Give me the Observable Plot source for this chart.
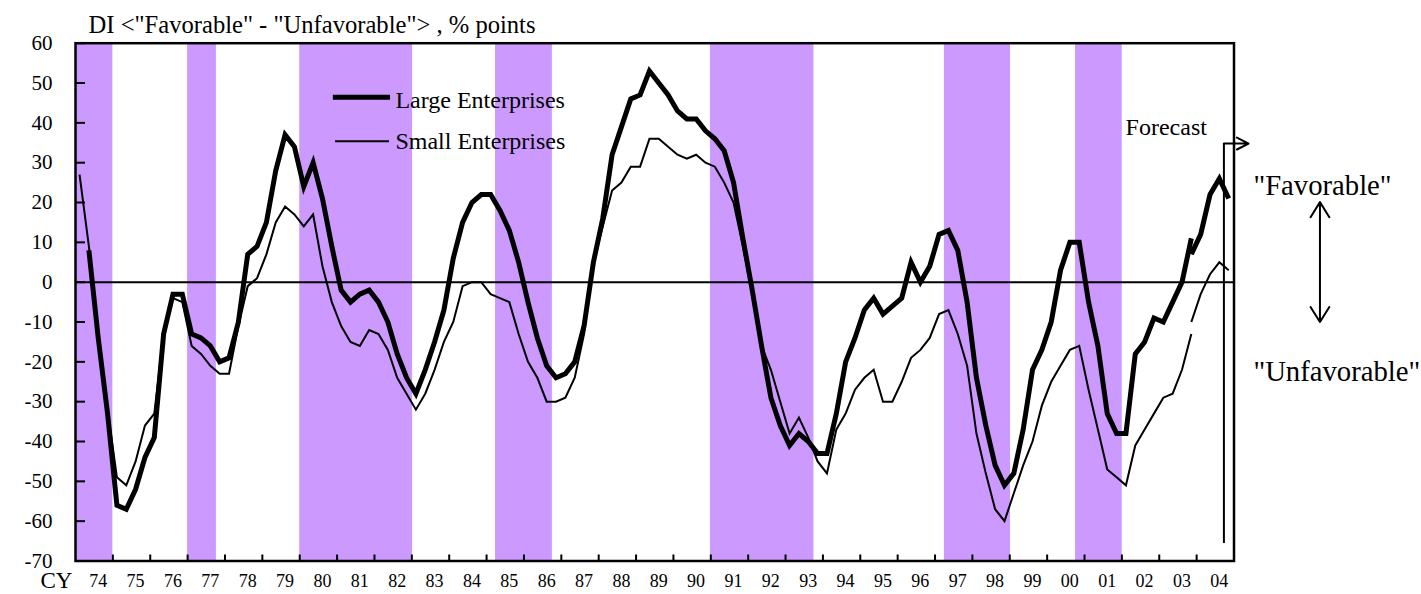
<!DOCTYPE html>
<html>
<head>
<meta charset="utf-8">
<script src="https://cdn.jsdelivr.net/npm/d3@7"></script>
<script src="https://cdn.jsdelivr.net/npm/@observablehq/plot@0.6"></script>
<style>
  html, body { margin: 0; padding: 0; background: #fff; }
  #chart svg { display: block; }
</style>
</head>
<body>
<div id="chart"></div>
<script>
// ---------------- data ----------------
// Quarterly survey values (Feb/May/Aug/Nov), 1974Q1 .. 2003Q4, old survey basis
const largeOld = [
  null, 8, -14, -33,      // 1974
  -56, -57, -52, -44,     // 1975
  -39, -13, -3, -3,       // 1976
  -13, -14, -16, -20,     // 1977
  -19, -10, 7, 9,         // 1978
  15, 28, 37, 34,         // 1979
  24, 30, 21, 9,          // 1980
  -2, -5, -3, -2,         // 1981
  -5, -10, -18, -24,      // 1982
  -28, -22, -15, -7,      // 1983
  6, 15, 20, 22,          // 1984
  22, 18, 13, 5,          // 1985
  -5, -14, -21, -24,      // 1986
  -23, -20, -11, 5,       // 1987
  16, 32, 39, 46,         // 1988
  47, 53, 50, 47,         // 1989
  43, 41, 41, 38,         // 1990
  36, 33, 25, 11,         // 1991
  -2, -16, -29, -36,      // 1992
  -41, -38, -40, -43,     // 1993
  -43, -33, -20, -14,     // 1994
  -7, -4, -8, -6,         // 1995
  -4, 5, 0, 4,            // 1996
  12, 13, 8, -5,          // 1997
  -24, -36, -46, -51,     // 1998
  -48, -37, -22, -17,     // 1999
  -10, 3, 10, 10,         // 2000
  -5, -16, -33, -38,      // 2001
  -38, -18, -15, -9,      // 2002
  -10, -5, 0, 11          // 2003
];
const smallOld = [
  27, 9, -14, -32,        // 1974
  -49, -51, -45, -36,     // 1975
  -33, -13, -4, -5,       // 1976
  -16, -18, -21, -23,     // 1977
  -23, -11, -1, 1,        // 1978
  7, 15, 19, 17,          // 1979
  14, 17, 4, -5,          // 1980
  -11, -15, -16, -12,     // 1981
  -13, -17, -24, -28,     // 1982
  -32, -28, -22, -15,     // 1983
  -10, -1, 0, 0,          // 1984
  -3, -4, -5, -13,        // 1985
  -20, -24, -30, -30,     // 1986
  -29, -24, -13, 5,       // 1987
  14, 23, 25, 29,         // 1988
  29, 36, 36, 34,         // 1989
  32, 31, 32, 30,         // 1990
  29, 25, 20, 9,          // 1991
  -3, -16, -22, -30,      // 1992
  -38, -34, -39, -45,     // 1993
  -48, -37, -33, -27,     // 1994
  -24, -22, -30, -30,     // 1995
  -25, -19, -17, -14,     // 1996
  -8, -7, -13, -21,       // 1997
  -38, -48, -57, -60,     // 1998
  -53, -46, -40, -31,     // 1999
  -25, -21, -17, -16,     // 2000
  -27, -37, -47, -49,     // 2001
  -51, -41, -37, -33,     // 2002
  -29, -28, -22, -13      // 2003
];
// New survey basis, 2003Q4 .. 2004Q4 (last value = forecast)
const largeNew = [7, 12, 22, 26, 21];
const smallNew = [-10, -3, 2, 5, 3];
const newStartIndex = 119;

// Recession periods (shaded), in years
const recessionStart = [1974.0, 1977.0, 1980.0, 1985.24, 1990.99, 1997.25, 2000.76];
const recessionEnd   = [1975.0, 1977.77, 1983.02, 1986.76, 1993.76, 1999.02, 2002.01];

const yTicks = d3.range(-70, 61, 10);
const tickYears = d3.range(1975, 2005);
const labelYears = d3.range(1974, 2005);

const seriesNames = ["Large Enterprises", "Small Enterprises"];
const titleText = 'DI <"Favorable" - "Unfavorable"> , % points';
const forecastText = "Forecast";
const favText = '"Favorable"';
const unfavText = '"Unfavorable"';

// ---------------- layout ----------------
const W = 1421, H = 594;
const mL = 75, mR = 187.5, mT = 42.7, mB = 33.5;
const frameW = W - mL - mR, frameH = H - mT - mB;
const FONT = "Liberation Serif, Times New Roman, serif";

// survey month position inside each quarter (Feb/May/Aug/Nov)
const qx = i => 1974 + i / 4 + 1.3 / 12;

const largeOldData = largeOld.map((v, i) => ({x: qx(i), y: v}));
const smallOldData = smallOld.map((v, i) => ({x: qx(i), y: v}));
const largeNewData = largeNew.map((v, k) => ({x: qx(newStartIndex + k), y: v}));
const smallNewData = smallNew.map((v, k) => ({x: qx(newStartIndex + k), y: v}));
const bands = recessionStart.map((s, k) => ({x1: s, x2: recessionEnd[k]}));

// annotation anchors (data units)
const forecastX = 2004.73, forecastTop = 34.8, forecastBottom = -65.6, forecastArrowEnd = 2005.39;
const dblArrowX = 2007.3;

const lineStyle = {stroke: "black", strokeLinejoin: "miter", strokeMiterlimit: 4, strokeLinecap: "butt"};

const chart = Plot.plot({
  width: W, height: H,
  marginLeft: mL, marginRight: mR, marginTop: mT, marginBottom: mB,
  style: {fontFamily: FONT, background: "white", overflow: "visible", color: "black"},
  x: {domain: [1974, 2005], axis: null},
  y: {domain: [-70, 60], axis: null},
  marks: [
    Plot.rect(bands, {x1: "x1", x2: "x2", y1: -70, y2: 60, fill: "#cc99ff"}),
    Plot.ruleY([0], {stroke: "black", strokeWidth: 2}),
    Plot.line(smallOldData, {x: "x", y: "y", ...lineStyle, strokeWidth: 2}),
    Plot.line(smallNewData, {x: "x", y: "y", ...lineStyle, strokeWidth: 2}),
    Plot.line(largeOldData, {x: "x", y: "y", ...lineStyle, strokeWidth: 5}),
    Plot.line(largeNewData, {x: "x", y: "y", ...lineStyle, strokeWidth: 5}),
    // frame & ticks
    Plot.frame({stroke: "black", strokeWidth: 2.5}),
    Plot.tickY(yTicks, {y: d => d, insetRight: frameW - 10, stroke: "black", strokeWidth: 2}),
    Plot.tickX(tickYears, {x: d => d, insetTop: frameH - 6, stroke: "black", strokeWidth: 2}),
    // axis labels
    Plot.text(yTicks, {y: d => d, text: d => String(d), frameAnchor: "left", dx: -23, textAnchor: "end",
      fontSize: 21, fontFamily: FONT, fill: "black", ariaLabel: "y-labels"}),
    Plot.text(labelYears, {x: d => d + 0.5, text: d => String(d % 100).padStart(2, "0"), frameAnchor: "bottom",
      dy: 25.7, dx: 4, fontSize: 18, fontFamily: FONT, fill: "black", ariaLabel: "x-labels"}),
    Plot.text(["CY"], {frameAnchor: "bottom-left", dx: -35, dy: 27, textAnchor: "start",
      fontSize: 23, fontFamily: FONT, fill: "black"}),
    // title
    Plot.text([titleText], {x: 1974.35, y: 64.5, textAnchor: "start", fontSize: 24.6, fontFamily: FONT, fill: "black"}),
    // legend
    Plot.ruleY([46.45], {x1: 1980.90, x2: 1982.43, stroke: "black", strokeWidth: 5}),
    Plot.ruleY([35.4], {x1: 1980.96, x2: 1982.40, stroke: "black", strokeWidth: 2}),
    Plot.text([seriesNames[0]], {x: 1982.56, y: 45.7, textAnchor: "start", fontSize: 24, fontFamily: FONT, fill: "black"}),
    Plot.text([seriesNames[1]], {x: 1982.56, y: 35.25, textAnchor: "start", fontSize: 24, fontFamily: FONT, fill: "black"}),
    // forecast marker
    Plot.text([forecastText], {x: 2002.10, y: 39.0, textAnchor: "start", fontSize: 24, fontFamily: FONT, fill: "black"}),
    Plot.ruleX([forecastX], {y1: forecastBottom, y2: forecastTop, stroke: "black", strokeWidth: 2}),
    Plot.arrow([0], {x1: forecastX - 0.6, x2: forecastArrowEnd, y1: forecastTop, y2: forecastTop,
      insetStart: 0.6 * frameW / 31, headLength: 9.8, headAngle: 54, stroke: "black", strokeWidth: 2}),
    // favorable / unfavorable
    Plot.text([favText], {x: 2005.52, y: 24.3, textAnchor: "start", fontSize: 28.7, fontFamily: FONT, fill: "black"}),
    Plot.text([unfavText], {x: 2005.52, y: -22.4, textAnchor: "start", fontSize: 28.7, fontFamily: FONT, fill: "black"}),
    Plot.arrow([0], {x1: dblArrowX, x2: dblArrowX, y1: 5, y2: 20.1, headLength: 13.3, headAngle: 64, stroke: "black", strokeWidth: 2}),
    Plot.arrow([0], {x1: dblArrowX, x2: dblArrowX, y1: 5, y2: -10.0, headLength: 13.3, headAngle: 64, stroke: "black", strokeWidth: 2})
  ]
});

document.getElementById("chart").append(chart);

// horizontally stretch/compress tick labels to match the reference glyph widths
function stretch(label, factor) {
  chart.querySelectorAll(`g[aria-label="${label}"] text`).forEach(t => {
    const w = t.getComputedTextLength();
    t.setAttribute("textLength", (w * factor).toFixed(2));
    t.setAttribute("lengthAdjust", "spacingAndGlyphs");
  });
}
stretch("y-labels", 1.33);
stretch("x-labels", 0.89);
</script>
</body>
</html>
